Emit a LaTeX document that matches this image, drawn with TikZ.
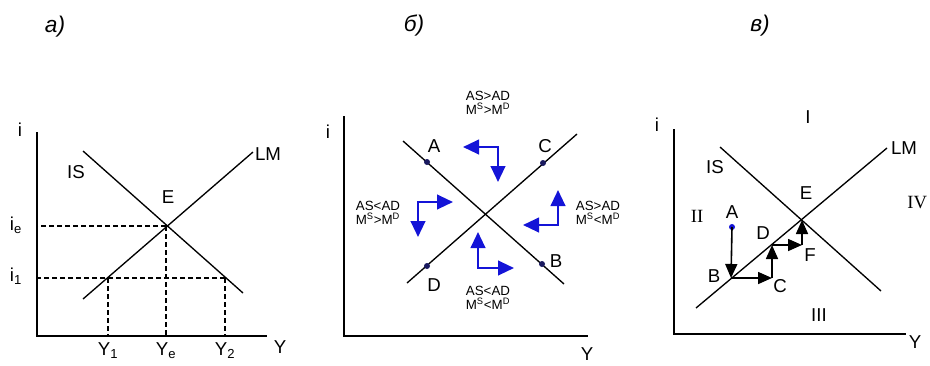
\documentclass[tikz,border=0pt]{standalone}
\usepackage{fontspec}
\setmainfont{Liberation Sans}
\newfontfamily\romfont{Liberation Serif}
\usetikzlibrary{arrows.meta}
\definecolor{flowblue}{RGB}{20,20,215}
\definecolor{dotnavy}{RGB}{25,25,95}

\begin{document}
\begin{tikzpicture}[x=0.75pt, y=-0.75pt,
    axis/.style={line width=1.1pt},
    curve/.style={line width=1pt},
    guide/.style={line width=0.8pt, dash pattern=on 3.5pt off 2.5pt},
    lbl/.style={inner sep=0pt, font=\fontsize{14}{15}\selectfont},
    small/.style={inner sep=0pt, align=center, font=\fontsize{10}{10.5}\selectfont},
    panel/.style={inner sep=0pt, font=\fontsize{17}{19}\selectfont\itshape},
    dot/.style={circle, fill=dotnavy, inner sep=0pt, minimum size=4.5pt},
    flow/.style={line width=1.6pt, flowblue, >={Triangle[length=12pt,width=11pt]}, <->},
    stair/.style={line width=1.2pt, >={Triangle[length=10.5pt,width=9pt]}, ->}]
    \useasboundingbox (0,0) rectangle (930,365);

    % Panel titles
    \node[panel] (ta) at (55,27) {а)};
    \node[panel] (tb) at (414,26) {б)};
    \node[panel] (tc) at (760,26) {в)};

    % ---------- a) ----------
    \coordinate (aTop) at (37,132);
    \coordinate (aO) at (37,336);
    \coordinate (aRight) at (267,336);
    \draw[axis] (aTop) -- (aO) -- (aRight);
    \coordinate (aIS1) at (83,151);
    \coordinate (aIS2) at (243,293);
    \coordinate (aLM1) at (83,299);
    \coordinate (aLM2) at (253,152);
    \draw[curve] (aIS1) -- (aIS2);
    \draw[curve] (aLM1) -- (aLM2);
    % Equilibrium and guides
    \coordinate (aE) at (166,226);
    \coordinate (aP1) at (108,278);
    \coordinate (aP2) at (225,278);
    \draw[guide] (aE) -- (aE -| aO);
    \draw[guide] (aE) -- (aE |- aO);
    \draw[guide] (aP2) -- (aP2 -| aO);
    \draw[guide] (aP1) -- (aP1 |- aO);
    \draw[guide] (aP2) -- (aP2 |- aO);
    % Labels
    \node[lbl] (ai) at (20,130) {i};
    \node[lbl] (aie) at (16,225) {i\textsubscript{e}};
    \node[lbl] (ai1) at (16,276) {i\textsubscript{1}};
    \node[lbl] (aIS) at (76,172) {IS};
    \node[lbl] (aLM) at (268,154) {LM};
    \node[lbl] (aEl) at (168,197) {E};
    \node[lbl] (aY1) at (108,351) {Y\textsubscript{1}};
    \node[lbl] (aYe) at (166,351) {Y\textsubscript{e}};
    \node[lbl] (aY2) at (225,351) {Y\textsubscript{2}};
    \node[lbl] (aY) at (280,347) {Y};

    % ---------- б) ----------
    \coordinate (bTop) at (344,116);
    \coordinate (bO) at (344,336);
    \coordinate (bRight) at (588,336);
    \draw[axis] (bTop) -- (bO) -- (bRight);
    \coordinate (bIS1) at (403,141);
    \coordinate (bIS2) at (564,284);
    \coordinate (bLM1) at (407,283);
    \coordinate (bLM2) at (577,134);
    \draw[curve] (bIS1) -- (bIS2);
    \draw[curve] (bLM1) -- (bLM2);
    \node[lbl] (bi) at (328,132) {i};
    \node[lbl] (bY) at (587,354) {Y};
    % Points
    \node[dot] (bA) at (427,162) {};
    \node[dot] (bC) at (543,163) {};
    \node[dot] (bD) at (427,266) {};
    \node[dot] (bB) at (542,264) {};
    \node[lbl] (bAl) at (434,146) {A};
    \node[lbl] (bCl) at (545,146) {C};
    \node[lbl] (bDl) at (434,285) {D};
    \node[lbl] (bBl) at (556,261) {B};
    % Adjustment arrows
    \coordinate (bt1) at (463,147);
    \coordinate (bt2) at (498,182);
    \coordinate (bl1) at (453,202);
    \coordinate (bl2) at (418,237);
    \coordinate (br1) at (523,225);
    \coordinate (br2) at (558,190);
    \coordinate (bb1) at (478,232);
    \coordinate (bb2) at (514,268);
    \draw[flow] (bt1) -| (bt2);
    \draw[flow] (bl1) -| (bl2);
    \draw[flow] (br1) -| (br2);
    \draw[flow] (bb1) |- (bb2);
    % Region texts
    \node[small] (bqt) at (488,103) {AS>AD\\M\textsuperscript{S}>M\textsuperscript{D}};
    \node[small] (bql) at (378,213) {AS<AD\\M\textsuperscript{S}>M\textsuperscript{D}};
    \node[small] (bqr) at (598,213) {AS>AD\\M\textsuperscript{S}<M\textsuperscript{D}};
    \node[small] (bqb) at (488,298) {AS<AD\\M\textsuperscript{S}<M\textsuperscript{D}};

    % ---------- в) ----------
    \coordinate (cTop) at (674,129);
    \coordinate (cO) at (674,334);
    \coordinate (cRight) at (906,334);
    \draw[axis] (cTop) -- (cO) -- (cRight);
    \coordinate (cIS1) at (720,147);
    \coordinate (cIS2) at (881,291);
    \coordinate (cLM1) at (696,308);
    \coordinate (cLM2) at (887,148);
    \draw[curve] (cIS1) -- (cIS2);
    \draw[curve] (cLM1) -- (cLM2);
    \node[lbl] (ci) at (657,125) {i};
    \node[lbl] (cY) at (915,342) {Y};
    \node[lbl] (cIS) at (715,167) {IS};
    \node[lbl] (cLM) at (904,148) {LM};
    \node[lbl] (cEl) at (806,193) {E};
    % Regions
    \node[lbl] (cI) at (808,117) {I};
    \node[lbl, font=\fontsize{14}{15}\selectfont\romfont] (cII) at (697,216) {II};
    \node[lbl] (cIII) at (819,315) {III};
    \node[lbl, font=\fontsize{14}{15}\selectfont\romfont, anchor=west] (cIV) at (907,203) {IV};
    % Path to equilibrium
    \node[dot, fill=flowblue] (cA) at (732,227) {};
    \coordinate (cB) at (731,278);
    \coordinate (cC) at (772,278);
    \coordinate (cD) at (772,245);
    \coordinate (cF) at (802,245);
    \coordinate (cE) at (802,220);
    \draw[stair] (cA.center) -- (cB);
    \draw[stair] (cB) -- (cC);
    \draw[stair] (cC) -- (cD);
    \draw[stair] (cD) -- (cF);
    \draw[stair] (cF) -- (cE);
    \node[lbl] (cAl) at (732,212) {A};
    \node[lbl] (cBl) at (714,276) {B};
    \node[lbl] (cCl) at (780,286) {C};
    \node[lbl] (cDl) at (763,233) {D};
    \node[lbl] (cFl) at (810,255) {F};
\end{tikzpicture}
\end{document}
